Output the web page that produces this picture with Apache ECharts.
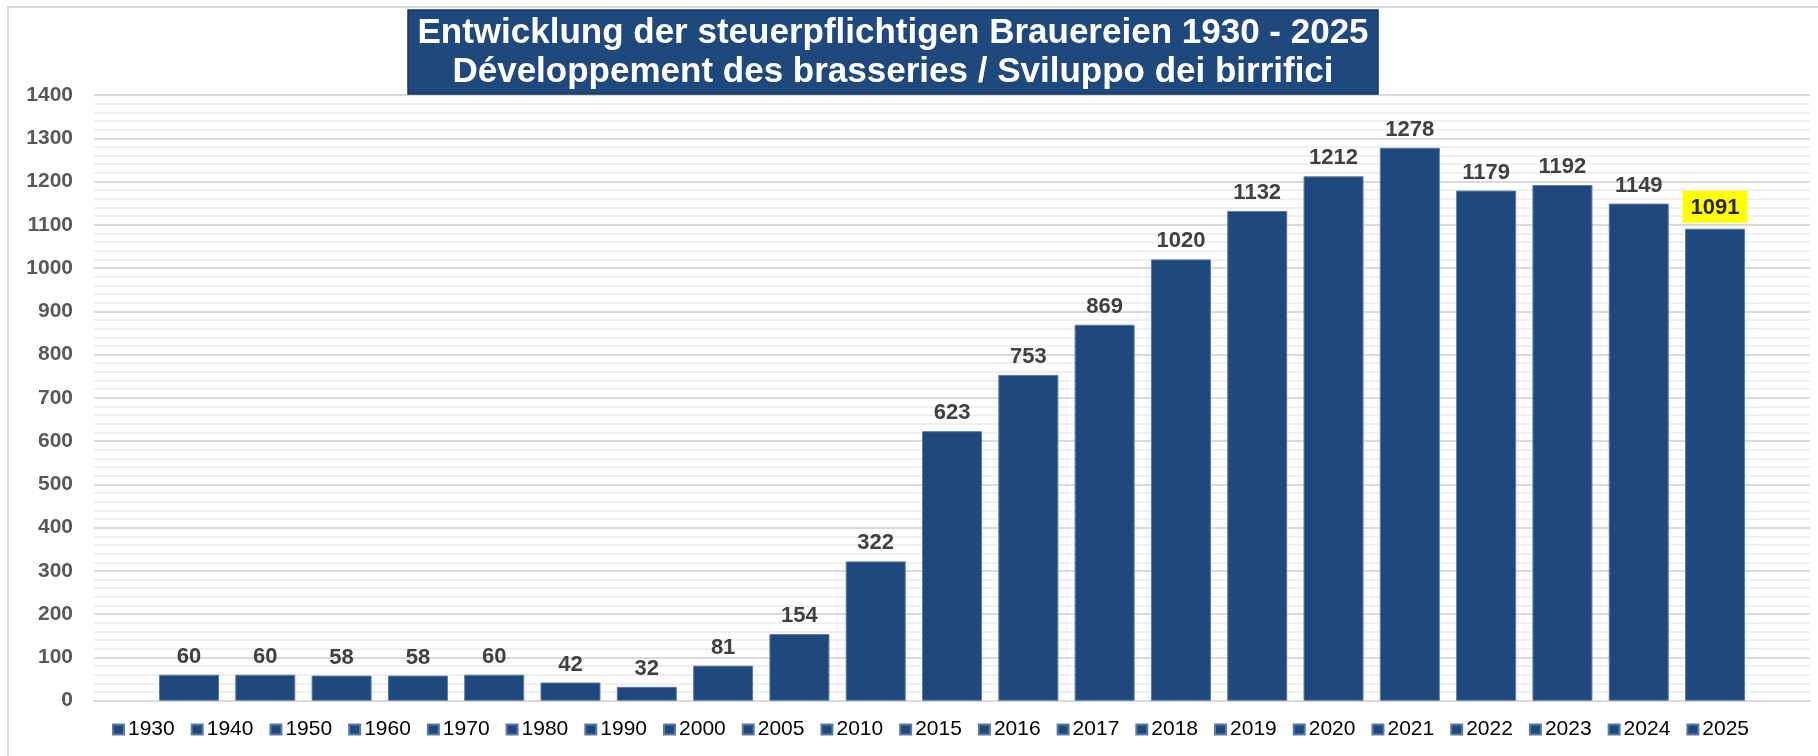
<!DOCTYPE html>
<html>
<head>
<meta charset="utf-8">
<script src="https://cdn.jsdelivr.net/npm/echarts@6/dist/echarts.min.js"></script>
<style>
  html, body { margin: 0; padding: 0; background: #fff; }
  #chart { width: 1818px; height: 756px; }
</style>
</head>
<body>
<div id="chart"></div>
<script>
const titleLine1 = 'Entwicklung der steuerpflichtigen Brauereien 1930 - 2025';
const titleLine2 = 'Développement des brasseries / Sviluppo dei birrifici';
const years = ['1930','1940','1950','1960','1970','1980','1990','2000','2005','2010','2015','2016','2017','2018','2019','2020','2021','2022','2023','2024','2025'];
const values = [60,60,58,58,60,42,32,81,154,322,623,753,869,1020,1132,1212,1278,1179,1192,1149,1091];
const yMin = 0, yMax = 1400, yStep = 100;
const highlightYear = '2025';

const barColor = '#1F497D';
const chart = echarts.init(document.getElementById('chart'), null, { renderer: 'canvas' });

const series = years.map((y, i) => {
  const data = years.map((_, j) => (j === i ? values[i] : '-'));
  const isHl = y === highlightYear;
  return {
    name: y,
    type: 'bar',
    xAxisIndex: 1,
    yAxisIndex: 1,
    stack: 'all',
    barWidth: 60,
    data: data,
    itemStyle: { color: barColor, borderColor: '#5b7aa3', borderWidth: 1 },
    label: {
      show: true,
      position: 'top',
      distance: isHl ? 6 : 7,
      fontFamily: 'Liberation Sans, Arial, sans-serif',
      fontWeight: 'bold',
      fontSize: 22,
      color: isHl ? '#262626' : '#404040',
      backgroundColor: isHl ? '#FFFF00' : 'transparent',
      padding: isHl ? [6, 8, 4, 8] : 0
    },
    emphasis: { disabled: true }
  };
});

const option = {
  animation: false,
  backgroundColor: '#ffffff',
  graphic: [
    { type: 'rect', z: -10, shape: { x: 8, y: 7, width: 1830, height: 770 },
      style: { fill: 'none', stroke: '#d9d9d9', lineWidth: 2 } },
    { type: 'rect', z: 10, shape: { x: 408, y: 10, width: 970, height: 84 },
      style: { fill: '#1F497D', stroke: '#17365D', lineWidth: 1.5 } },
    { type: 'text', z: 11, x: 893, y: 33,
      style: { text: titleLine1, fill: '#ffffff', font: 'bold 35px "Liberation Sans", Arial, sans-serif',
        textAlign: 'center', textVerticalAlign: 'middle' } },
    { type: 'text', z: 11, x: 893, y: 72,
      style: { text: titleLine2, fill: '#ffffff', font: 'bold 35px "Liberation Sans", Arial, sans-serif',
        textAlign: 'center', textVerticalAlign: 'middle' } }
  ],
  legend: {
    data: years,
    left: 107,
    top: 714,
    icon: 'rect',
    itemWidth: 11,
    itemHeight: 10,
    itemGap: 16,
    textStyle: { fontFamily: 'Liberation Sans, Arial, sans-serif', fontSize: 21, color: '#000000', padding: [0, 0, 0, -1] },
    selectedMode: false
  },
  grid: [
    { left: 94, right: 8, top: 95, bottom: 55.3 },
    { left: 150.85, right: 64.8, top: 95, bottom: 55.3 }
  ],
  xAxis: [
    { type: 'category', gridIndex: 0, data: [''],
      axisLine: { show: true, lineStyle: { color: '#d9d9d9', width: 2 } },
      axisTick: { show: false }, axisLabel: { show: false } },
    { type: 'category', gridIndex: 1, data: years,
      axisLine: { show: false }, axisTick: { show: false }, axisLabel: { show: false } }
  ],
  yAxis: [
    { type: 'value', gridIndex: 0, min: yMin, max: yMax, interval: yStep,
      axisLine: { show: false }, axisTick: { show: false },
      axisLabel: { margin: 21, formatter: v => String(v), fontFamily: 'Liberation Sans, Arial, sans-serif', fontWeight: 'bold', fontSize: 21, color: '#595959' },
      splitLine: { show: true, lineStyle: { color: '#d9d9d9', width: 2 } },
      minorTick: { show: false, splitNumber: 5 },
      minorSplitLine: { show: true, lineStyle: { color: '#efefef', width: 2 } } },
    { type: 'value', gridIndex: 1, min: yMin, max: yMax, interval: yStep,
      axisLine: { show: false }, axisTick: { show: false }, axisLabel: { show: false },
      splitLine: { show: false } }
  ],
  series: series
};
chart.setOption(option);
</script>
</body>
</html>
